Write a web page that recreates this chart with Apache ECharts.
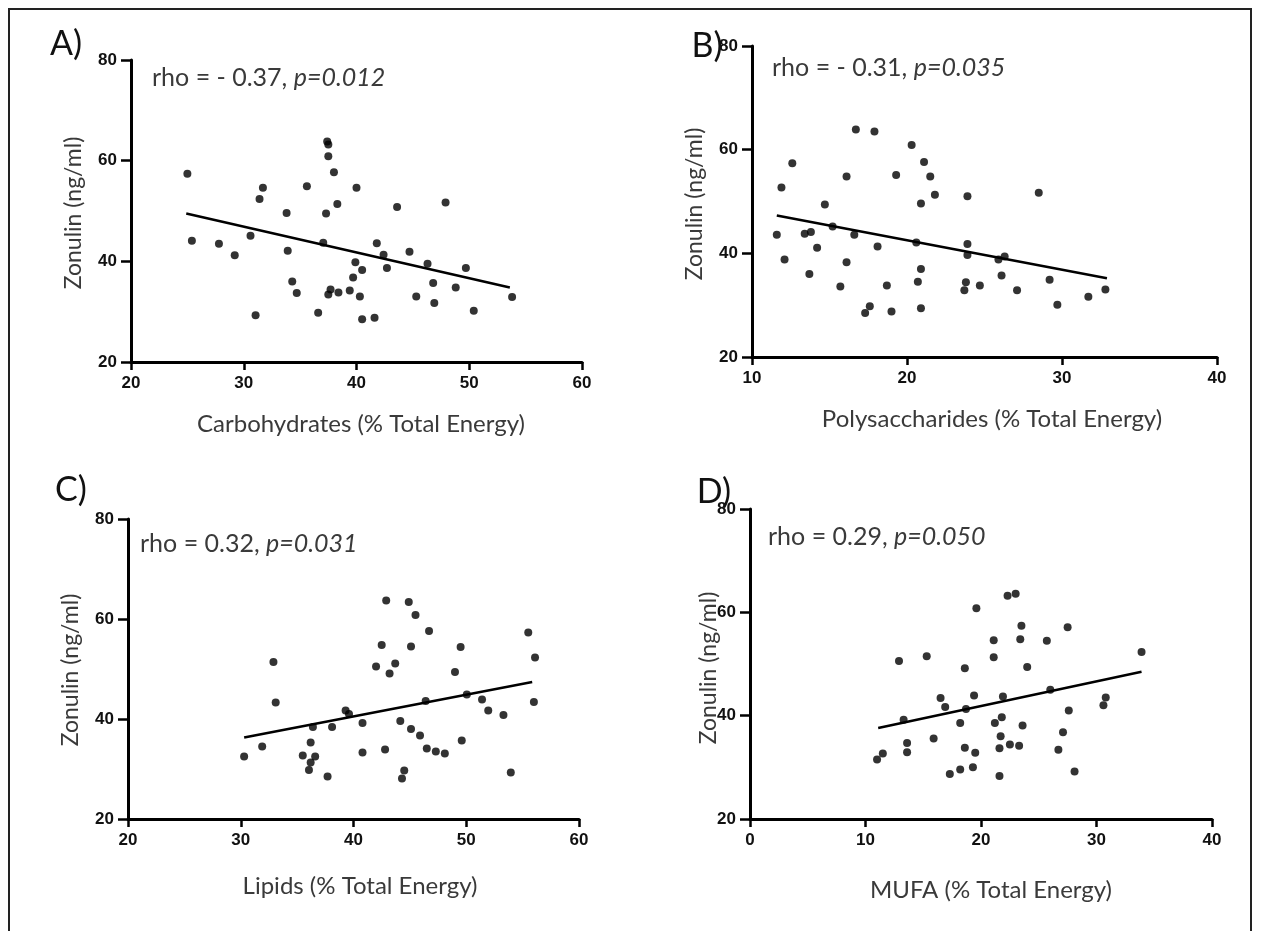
<!DOCTYPE html>
<html>
<head>
<meta charset="utf-8">
<script src="https://cdn.jsdelivr.net/npm/echarts@6/dist/echarts.min.js"></script>
<style>
html,body{margin:0;padding:0;background:#fff;}
#chart{width:1262px;height:931px;}
#frame{position:absolute;left:8px;top:8px;width:1244px;height:940px;border:2px solid #222;box-sizing:border-box;pointer-events:none;}
</style>
</head>
<body>
<div id="chart"></div>
<div id="frame"></div>
<script>
// ---- Data ----
const carbX = [25.0,25.4,27.8,29.2,30.6,31.05,31.4,31.7,33.8,33.9,34.3,34.7,35.6,36.6,37.05,37.3,37.4,37.5,37.5,38.0,38.3,37.5,37.7,38.4,39.4,40.0,41.8,42.4,39.9,40.5,39.7,40.3,40.5,41.6,42.7,43.6,44.7,45.3,46.3,46.8,46.9,47.9,48.8,49.7,50.4,53.8];
const carbY = [57.4,44.1,43.5,41.2,45.1,29.3,52.4,54.6,49.6,42.1,36.0,33.7,54.9,29.8,43.7,49.5,63.8,63.2,60.9,57.7,51.4,33.4,34.4,33.8,34.2,54.6,43.6,41.3,39.8,38.3,36.8,33.0,28.5,28.8,38.7,50.8,41.9,33.0,39.5,35.7,31.7,51.7,34.8,38.7,30.2,32.9];
const carbFitX = [24.9,53.6];
const carbFitY = [49.5,34.8];

const polyX = [11.6,11.9,12.1,12.6,13.4,13.8,13.7,14.2,14.7,15.2,15.7,16.1,16.1,16.6,16.7,17.3,17.6,17.9,18.1,18.7,19.0,19.3,20.3,20.6,20.7,20.9,20.9,20.9,21.1,21.5,21.8,23.9,23.9,23.9,23.8,23.7,24.7,26.1,25.9,26.3,27.1,28.5,29.2,29.7,31.7,32.8];
const polyY = [43.6,52.7,38.8,57.4,43.8,44.1,36.0,41.1,49.4,45.2,33.6,38.3,54.8,43.6,63.9,28.5,29.8,63.5,41.3,33.8,28.8,55.1,60.9,42.1,34.5,29.4,49.6,37.0,57.6,54.8,51.3,51.0,41.8,39.7,34.4,32.9,33.8,35.7,38.8,39.4,32.9,51.7,34.9,30.1,31.6,33.0];
const polyFitX = [11.6,32.9];
const polyFitY = [47.3,35.2];

const lipX = [30.3,31.9,32.9,33.1,35.5,36.2,36.6,36.2,36.05,36.4,37.7,38.1,39.3,39.6,40.8,40.8,42.8,42.0,42.5,42.9,43.2,43.7,44.15,44.9,45.5,45.1,45.1,45.9,46.4,46.7,46.5,47.3,48.1,44.5,44.3,49.0,49.5,49.6,50.05,51.4,51.95,53.3,53.95,55.5,56.1,56.0];
const lipY = [32.5,34.5,51.4,43.3,32.7,35.3,32.5,31.3,29.8,38.4,28.5,38.4,41.7,41.0,39.2,33.3,33.9,50.5,54.8,63.7,49.1,51.1,39.6,63.4,60.8,54.5,38.0,36.7,43.6,57.6,34.1,33.5,33.1,29.7,28.1,49.4,54.4,35.7,44.9,43.9,41.7,40.8,29.3,57.3,52.3,43.4];
const lipFitX = [30.3,55.85];
const lipFitY = [36.3,47.4];

const mufaX = [11.0,11.5,12.9,13.3,13.6,13.6,15.3,15.9,16.5,16.9,17.3,18.2,18.2,18.6,18.6,18.7,19.3,19.4,19.5,19.6,21.1,21.1,21.2,21.8,21.9,21.7,21.6,22.5,23.3,21.6,22.3,23.0,23.5,23.4,23.6,24.0,25.7,26.0,26.7,27.1,27.5,27.6,28.1,30.6,30.8,33.9];
const mufaY = [31.5,32.7,50.6,39.2,34.7,32.9,51.5,35.6,43.4,41.7,28.7,29.6,38.6,33.8,49.2,41.3,30.0,43.9,32.8,60.8,54.6,51.3,38.6,39.7,43.7,36.0,33.7,34.4,34.2,28.3,63.2,63.6,57.4,54.8,38.1,49.4,54.5,45.0,33.4,36.8,57.1,41.0,29.2,42.0,43.5,52.3];
const mufaFitX = [11.1,33.9];
const mufaFitY = [37.6,48.5];

const panelLetters = ['A)','B)','C)','D)'];
const rhoTexts = ['rho = - 0.37, ','rho = - 0.31, ','rho = 0.32, ','rho = 0.29, '];
const pTexts = ['p=0.012','p=0.035','p=0.031','p=0.050'];
const xTitles = ['Carbohydrates (% Total Energy)','Polysaccharides (% Total Energy)','Lipids (% Total Energy)','MUFA (% Total Energy)'];
const yTitle = 'Zonulin (ng/ml)';
const xRanges = [[20,60],[10,40],[20,60],[0,40]];
const yRange = [20,80];
const xInterval = 10, yInterval = 20;

// ---- Layout ----
const grids = [
  {left:131, top:60, width:451, height:302},
  {left:752, top:46, width:465, height:311},
  {left:128, top:519, width:451, height:300},
  {left:750, top:509, width:462, height:310}
];
const letterPos = [[66,44],[707,46],[71,490],[714,492]];
const rhoPos = [[152,78],[772,68],[140,544],[768,537]];
const xTitlePos = [[361,424],[992,419],[360,886],[991,890]];
const yTitlePos = [[74,213],[695,204],[71,670],[709,668]];

const zip = (a,b) => a.map((v,i)=>[v,b[i]]);
const sets = [[carbX,carbY,carbFitX,carbFitY],[polyX,polyY,polyFitX,polyFitY],[lipX,lipY,lipFitX,lipFitY],[mufaX,mufaY,mufaFitX,mufaFitY]];

const FONT = 'Lato, "Liberation Sans", sans-serif';
const TICKFONT = '"Liberation Sans", Arial, sans-serif';

const axisCommon = {
  axisLine:{show:true, onZero:false, lineStyle:{color:'#000', width:3}},
  axisTick:{show:true, inside:false, length:8, lineStyle:{color:'#000', width:2.5}},
  splitLine:{show:false},
  axisLabel:{color:'#111', fontWeight:'bold', fontSize:17, fontFamily:TICKFONT}
};

const xAxis = grids.map((g,i)=>Object.assign({}, JSON.parse(JSON.stringify(axisCommon)), {
  type:'value', gridIndex:i, min:xRanges[i][0], max:xRanges[i][1], interval:xInterval,
  axisLabel:Object.assign({}, axisCommon.axisLabel, {margin:13})
}));
const yAxis = grids.map((g,i)=>Object.assign({}, JSON.parse(JSON.stringify(axisCommon)), {
  type:'value', gridIndex:i, min:yRange[0], max:yRange[1], interval:yInterval,
  axisTick:{show:true, inside:false, length:10, lineStyle:{color:'#000', width:2.5}},
  axisLabel:Object.assign({}, axisCommon.axisLabel, {margin:14})
}));

const series = [];
sets.forEach((s,i)=>{
  series.push({type:'scatter', xAxisIndex:i, yAxisIndex:i, data:zip(s[0],s[1]), symbol:'circle', symbolSize:8,
    itemStyle:{color:'#000'}, silent:true, z:3});
  series.push({type:'line', xAxisIndex:i, yAxisIndex:i, data:zip(s[2],s[3]), symbol:'none',
    lineStyle:{color:'#000', width:2.5}, silent:true, z:2});
});

const graphic = [];
panelLetters.forEach((t,i)=>{
  graphic.push({type:'text', x:letterPos[i][0], y:letterPos[i][1],
    style:{text:t, fill:'#111', font:'34px '+FONT, textAlign:'center', textVerticalAlign:'middle'}});
});
rhoTexts.forEach((t,i)=>{
  graphic.push({type:'text', x:rhoPos[i][0], y:rhoPos[i][1],
    style:{text:'{n|'+t+'}{i|'+pTexts[i]+'}', textAlign:'left', textVerticalAlign:'middle',
      rich:{n:{fill:'#3a3a3a', font:'25px '+FONT}, i:{fill:'#3a3a3a', font:'italic 25px '+FONT}}}});
});
xTitles.forEach((t,i)=>{
  graphic.push({type:'text', x:xTitlePos[i][0], y:xTitlePos[i][1],
    style:{text:t, fill:'#3a3a3a', font:'24px '+FONT, textAlign:'center', textVerticalAlign:'middle'}});
  graphic.push({type:'text', x:yTitlePos[i][0], y:yTitlePos[i][1], rotation:Math.PI/2,
    style:{text:yTitle, fill:'#3a3a3a', font:'23px '+FONT, textAlign:'center', textVerticalAlign:'middle'}});
});

const chart = echarts.init(document.getElementById('chart'), null, {renderer:'canvas'});
chart.setOption({
  backgroundColor:'#fff',
  animation:false,
  grid:grids.map(g=>Object.assign({containLabel:false}, g)),
  xAxis, yAxis, series, graphic
});
</script>
</body>
</html>
